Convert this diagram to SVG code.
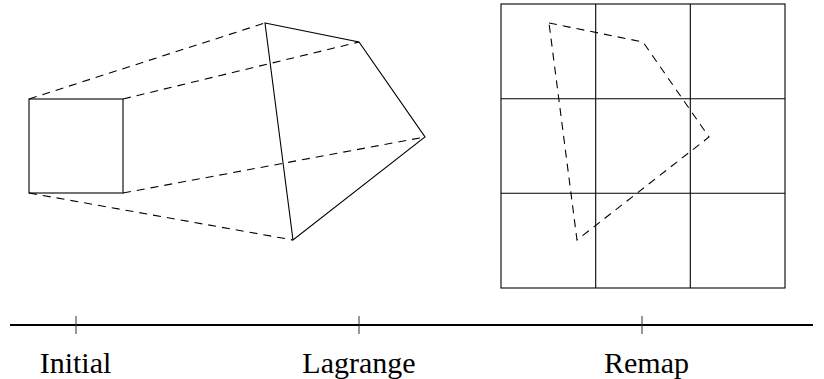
<svg xmlns="http://www.w3.org/2000/svg" width="824" height="379" viewBox="0 0 824 379">
<style>
.s{fill:none;stroke:#000;stroke-width:1.1}
.d{fill:none;stroke:#000;stroke-width:1.1;stroke-dasharray:8 6}
.g{fill:none;stroke:#000;stroke-width:1.1}
.ax{stroke:#000;stroke-width:1.8}
.tk{stroke:#333;stroke-width:1}
.t{font-size:30px;fill:#000;text-anchor:middle}
</style>
<rect width="824" height="379" fill="#fff"/>
<g id="initial-square">
<rect class="s" x="29" y="99" width="94" height="94"/>
</g>
<g id="lagrange-quad">
<polygon class="s" points="265,23 359,42 425,137 293,240"/>
</g>
<g id="remap-grid">
<rect class="g" x="501" y="4" width="284" height="284"/>
<line class="g" x1="595.7" y1="4" x2="595.7" y2="288"/>
<line class="g" x1="690.3" y1="4" x2="690.3" y2="288"/>
<line class="g" x1="501" y1="98.7" x2="785" y2="98.7"/>
<line class="g" x1="501" y1="193.3" x2="785" y2="193.3"/>
<polygon class="d" points="549,23 643,42 709,137 577,240"/>
</g>
<g id="connectors">
<line class="d" x1="29" y1="99" x2="265" y2="23"/>
<line class="d" x1="123" y1="99" x2="359" y2="42"/>
<line class="d" x1="123" y1="193" x2="425" y2="137"/>
<line class="d" x1="29" y1="193" x2="293" y2="240"/>
</g>
<g id="timeline" font-family="Liberation Serif, DejaVu Serif, serif">
<line class="ax" x1="10" y1="325" x2="813" y2="325"/>
<line class="tk" x1="76" y1="316" x2="76" y2="334"/>
<line class="tk" x1="359" y1="316" x2="359" y2="334"/>
<line class="tk" x1="642" y1="316" x2="642" y2="334"/>
<text class="t" x="75.5" y="373">Initial</text>
<text class="t" x="359" y="373">Lagrange</text>
<text class="t" x="646.5" y="373">Remap</text>
</g>
</svg>
